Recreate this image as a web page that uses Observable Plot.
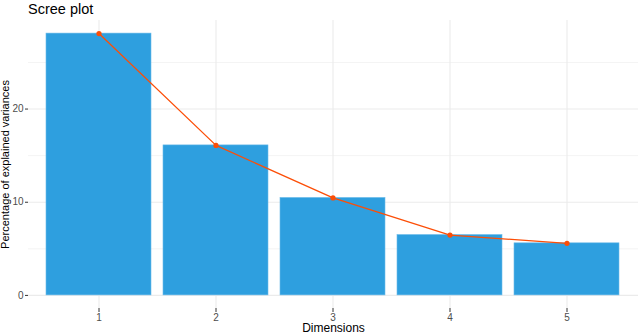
<!DOCTYPE html>
<html>
<head>
<meta charset="utf-8">
<script src="https://cdn.jsdelivr.net/npm/d3@7"></script>
<script src="https://cdn.jsdelivr.net/npm/@observablehq/plot@0.6"></script>
<style>
  html, body { margin: 0; padding: 0; background: #fff; }
  #title { font-family: "Liberation Sans", Arial, sans-serif; font-size: 14.5px; color: #000; height: 18px; line-height: 18px; padding-left: 28px; }
  svg { display: block; }
</style>
</head>
<body>
<div id="title">Scree plot</div>
<div id="chart"></div>
<script>
const dimensions = ["1", "2", "3", "4", "5"];
const variances = [28.1, 16.1, 10.46, 6.48, 5.59];
const yTicks = [0, 10, 20];
const yMinor = [5, 15, 25];
const xLabel = "Dimensions";
const yLabel = "Percentage of explained variances";

const data = dimensions.map((d, i) => ({dim: d, value: variances[i]}));
const maxV = d3.max(variances);
const pad = maxV * 0.05;

const chart = Plot.plot({
  width: 640,
  height: 316,
  marginTop: 2,
  marginBottom: 26,
  marginLeft: 28,
  marginRight: 2,
  style: {fontFamily: "Liberation Sans, Arial, sans-serif", fontSize: "10px", background: "#fff"},
  x: {type: "band", domain: dimensions, paddingInner: 0.1, paddingOuter: 0.15, label: null},
  y: {domain: [-pad, maxV + pad], label: null},
  marks: [
    Plot.ruleY(yMinor, {stroke: "#ebebeb", strokeWidth: 0.6}),
    Plot.ruleY(yTicks, {stroke: "#ebebeb", strokeWidth: 1.1}),
    Plot.ruleX(dimensions, {x: d => d, stroke: "#ebebeb", strokeWidth: 1.1}),
    Plot.barY(data, {x: "dim", y: "value", fill: "#2E9FDF", stroke: "#6cbbe9", strokeWidth: 0.6}),
    Plot.line(data, {x: "dim", y: "value", stroke: "#FC4E07", strokeWidth: 1.3}),
    Plot.dot(data, {x: "dim", y: "value", fill: "#FC4E07", r: 2.6}),
    Plot.axisY(yTicks, {tickSize: 3, tickPadding: 2, stroke: "#333", color: "#4d4d4d", fontSize: 10, label: null}),
    Plot.axisX(dimensions, {tickSize: 4, tickPadding: 1, stroke: "#333", color: "#4d4d4d", fontSize: 10, label: null}),
    Plot.text([xLabel], {frameAnchor: "bottom", lineAnchor: "middle", dy: 20, fontSize: 12, fill: "#000"}),
    Plot.text([yLabel], {frameAnchor: "left", textAnchor: "middle", lineAnchor: "middle", dx: -23, rotate: -90, fontSize: 11, fill: "#000"})
  ]
});
document.getElementById("chart").appendChild(chart);
</script>
</body>
</html>
